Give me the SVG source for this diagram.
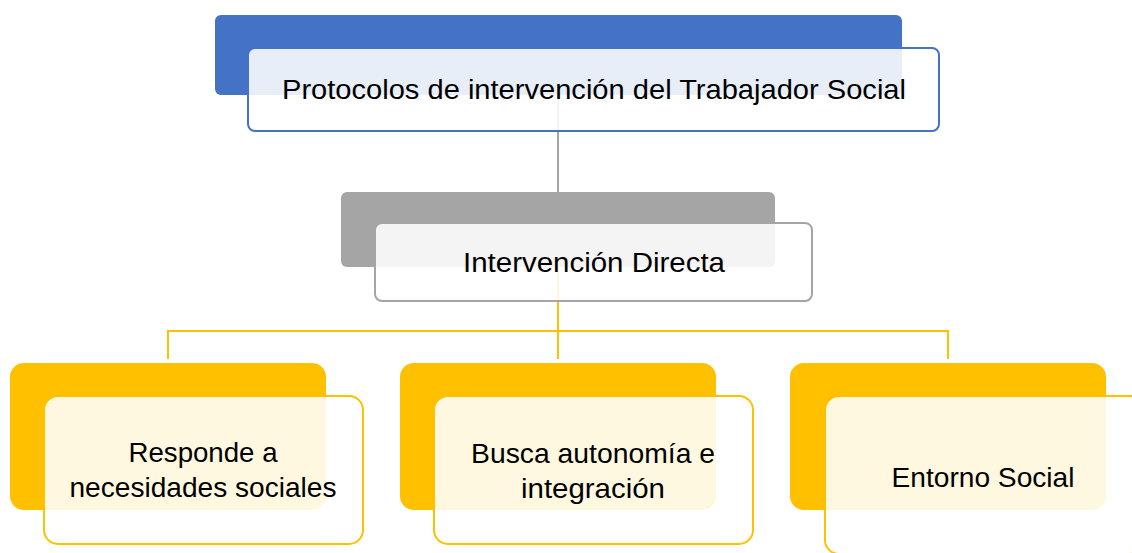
<svg xmlns="http://www.w3.org/2000/svg" width="1132" height="553" viewBox="0 0 1132 553">
<style>
text{font-family:"Liberation Sans",Arial,sans-serif;font-size:27.5px;fill:#000;text-anchor:middle}
.front{fill:#fff;fill-opacity:0.88;stroke-width:2}
.bY{fill:#FFC000}
.fY{stroke:#FFC000}
</style>
<rect x="0" y="0" width="1132" height="553" fill="#fff"/>
<g id="n-top-back"><rect x="215" y="15" width="687" height="80" rx="6" fill="#4472C4"/></g>
<g id="n-mid-back"><rect x="341" y="192" width="434" height="75" rx="6" fill="#A5A5A5"/></g>
<g id="n-b1-back"><rect class="bY" x="10" y="363" width="316" height="147" rx="14"/></g>
<g id="n-b2-back"><rect class="bY" x="400" y="363" width="316" height="147" rx="14"/></g>
<g id="n-b3-back"><rect class="bY" x="790" y="363" width="316" height="147" rx="14"/></g>
<g id="connectors" fill="none" stroke-width="2">
<line x1="558" y1="95" x2="558" y2="192" stroke="#A5A5A5"/>
<path d="M558 267V331M168 359V331H948V359M558 331V359" stroke="#FFC000"/>
</g>
<g id="n-top">
<rect class="front" x="248" y="48" width="691" height="83" rx="7" stroke="#4472C4"/>
<text x="594" y="99" font-size="28" textLength="624" lengthAdjust="spacingAndGlyphs">Protocolos de intervención del Trabajador Social</text>
</g>
<g id="n-mid">
<rect class="front" x="375" y="223" width="437" height="78" rx="7" stroke="#A5A5A5"/>
<text x="594" y="272" textLength="262" lengthAdjust="spacingAndGlyphs">Intervención Directa</text>
</g>
<g id="n-b1">
<rect class="front fY" x="44" y="396" width="319" height="148" rx="14"/>
<text x="203" y="462" textLength="149" lengthAdjust="spacingAndGlyphs">Responde a</text>
<text x="203" y="497" textLength="267" lengthAdjust="spacingAndGlyphs">necesidades sociales</text>
</g>
<g id="n-b2">
<rect class="front fY" x="434" y="396" width="319" height="148" rx="14"/>
<text x="593" y="463" textLength="244" lengthAdjust="spacingAndGlyphs">Busca autonomía e</text>
<text x="593" y="498" textLength="144" lengthAdjust="spacingAndGlyphs">integración</text>
</g>
<g id="n-b3">
<rect class="front fY" x="825" y="396" width="319" height="158" rx="14"/>
<text x="983" y="487" textLength="183" lengthAdjust="spacingAndGlyphs">Entorno Social</text>
</g>
</svg>
